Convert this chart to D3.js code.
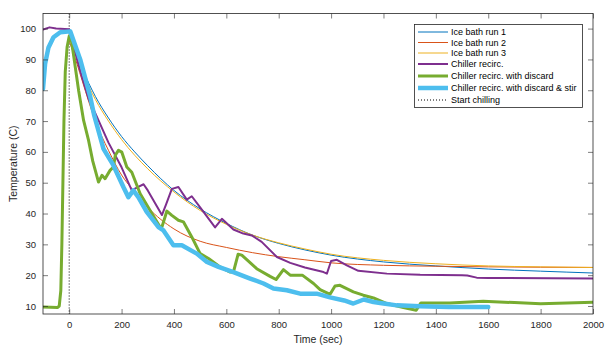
<!DOCTYPE html>
<html>
<head>
<meta charset="utf-8">
<script src="https://cdn.jsdelivr.net/npm/d3@7"></script>
<style>
  body { margin: 0; background: #fff; }
  svg text { font-family: "Liberation Sans", Arial, Helvetica, sans-serif; fill: #262626; }
</style>
</head>
<body>
<svg id="chart"></svg>
<script>
// Ice bath runs [time (s), temperature (C)]
const iceRun1 = [[0,98.5],[50,87],[100,78],[150,71],[200,65],[250,60],[300,55.5],[400,47.5],[500,41.5],[600,36.8],[700,33],[800,30.3],[900,28.2],[1000,26.5],[1200,24.3],[1400,23],[1600,22],[1800,21.3],[2000,20.7]];
const iceRun2 = [[0,96],[30,88.5],[50,83],[100,70],[150,60.5],[200,52.5],[250,47],[300,42],[400,35],[500,31],[600,29],[700,27.3],[800,26],[900,25],[1000,24],[1200,23.2],[1400,22.9],[1600,22.7],[2000,22.5]];
const iceRun3 = [[0,97.5],[50,86],[100,77],[150,70],[200,64],[300,54.5],[400,47],[500,41],[600,36.5],[700,33],[800,30.5],[900,28.5],[1000,26.8],[1200,24.8],[1400,23.7],[1600,23],[1800,22.7],[2000,22.5]];

const chiller = [[-100,99.7],[-75,100.4],[-50,100],[0,99.8],[20,93],[50,84],[75,77],[100,72.5],[150,63],[200,55],[239,47.5],[260,48.5],[284,49.5],[300,47.5],[354,39.5],[370,43],[392,48],[417,48.6],[449,44.5],[468,45.6],[500,42],[557,35.5],[583,38.3],[627,34.8],[665,33.5],[697,32.9],[735,30.8],[793,25.9],[844,24],[900,22.5],[971,21],[984,20.5],[1000,24.6],[1022,25],[1060,23.2],[1104,21.4],[1213,20.5],[1340,20.1],[1500,20],[1520,19.9],[1556,19.2],[1600,19.1],[2000,18.9]];

const chillerDiscard = [[-100,9.7],[-45,9.5],[-38,10],[-32,15],[-28,30],[-24,50],[-20,70],[-15,86],[-8,94],[0,97.5],[5,98],[16,91.8],[36,79.9],[55,70.2],[74,63.7],[90,57],[112,50.2],[125,52.4],[137,51.3],[156,54],[169,55.1],[176,58.9],[188,60.5],[201,59.9],[220,55.1],[239,53.4],[271,46.4],[309,41],[347,35.6],[354,35.6],[373,40.8],[392,39.4],[417,37.8],[436,37.3],[468,32.4],[500,27],[532,25.4],[576,22.7],[615,21],[627,21],[645,26.8],[659,26.5],[716,22.1],[767,19.6],[790,18.6],[818,21.8],[844,20],[890,20],[933,17.3],[958,15.3],[996,13.8],[1015,16.5],[1034,16.7],[1085,14.6],[1123,13.5],[1162,12.6],[1213,10.8],[1276,9.5],[1325,8.6],[1343,11],[1454,11],[1581,11.5],[1700,11.1],[1800,10.7],[2000,11.2]];

const chillerStir = [[-100,80.5],[-92,88.6],[-79,93.9],[-60,97.2],[-34,98.8],[4,99.1],[42,90],[80,78],[95,72],[131,61],[169,55.6],[207,48.6],[226,45.3],[245,47.5],[264,45.3],[296,40.5],[341,35.6],[360,34.5],[398,29.7],[430,29.7],[487,27],[526,24.3],[570,22.7],[627,21],[691,18.9],[742,17.3],[780,15.7],[831,15.1],[882,14],[945,14],[996,12.8],[1050,11.8],[1085,10.8],[1125,12.1],[1162,11.3],[1200,10.8],[1251,10.2],[1340,9.9],[1450,9.7],[1600,9.7]];

const xTicks = [0,200,400,600,800,1000,1200,1400,1600,1800,2000];
const yTicks = [10,20,30,40,50,60,70,80,90,100];

const series = [
  { name: "Ice bath run 1", data: iceRun1, color: "#0072BD", width: 1, curve: d3.curveMonotoneX },
  { name: "Ice bath run 2", data: iceRun2, color: "#D95319", width: 1, curve: d3.curveMonotoneX },
  { name: "Ice bath run 3", data: iceRun3, color: "#EDB120", width: 1, curve: d3.curveMonotoneX },
  { name: "Chiller recirc.", data: chiller, color: "#7E2F8E", width: 2, curve: d3.curveLinear },
  { name: "Chiller recirc. with discard", data: chillerDiscard, color: "#77AC30", width: 3, curve: d3.curveLinear },
  { name: "Chiller recirc. with discard & stir", data: chillerStir, color: "#4DBEEE", width: 4.5, curve: d3.curveLinear }
];

const svg_width = 614, svg_height = 351;
const margin = { top: 13.5, right: 21, bottom: 37, left: 43 },
    width = svg_width - margin.left - margin.right,
    height = svg_height - margin.top - margin.bottom;

const root = d3.select("#chart")
    .attr("width", svg_width)
    .attr("height", svg_height);

const svg = root.append("g")
    .attr("transform", `translate(${margin.left},${margin.top})`);

const x = d3.scaleLinear().domain([-100, 2000]).range([0, width]);
const y = d3.scaleLinear().domain([7.4, 104.9]).range([height, 0]);

svg.append("defs").append("clipPath").attr("id", "clip")
    .append("rect").attr("width", width).attr("height", height);

const plot = svg.append("g").attr("clip-path", "url(#clip)");

// start chilling marker
plot.append("line")
    .attr("x1", x(0)).attr("x2", x(0))
    .attr("y1", 0).attr("y2", height)
    .attr("stroke", "#000")
    .attr("stroke-width", 1)
    .attr("stroke-dasharray", "1,2");

const line = d3.line()
    .x(d => x(d[0]))
    .y(d => y(d[1]));

series.forEach(s => {
    plot.append("path")
        .datum(s.data)
        .attr("fill", "none")
        .attr("stroke", s.color)
        .attr("stroke-width", s.width)
        .attr("stroke-linejoin", "round")
        .attr("stroke-linecap", "round")
        .attr("d", line.curve(s.curve));
});

// axes with inward ticks on all four sides
const axisStyle = g => {
    g.select(".domain").remove();
    g.selectAll(".tick line").attr("stroke", "#262626").attr("stroke-width", 0.6);
    g.selectAll(".tick text").style("font-size", "9.5px");
};

svg.append("g")
    .attr("transform", `translate(0,${height})`)
    .call(d3.axisBottom(x).tickValues(xTicks).tickFormat(d3.format("d")).tickSizeInner(-5).tickSizeOuter(0).tickPadding(7))
    .call(axisStyle);

svg.append("g")
    .call(d3.axisTop(x).tickValues(xTicks).tickSizeInner(-5).tickSizeOuter(0).tickFormat(""))
    .call(axisStyle);

svg.append("g")
    .call(d3.axisLeft(y).tickValues(yTicks).tickSizeInner(-5).tickSizeOuter(0).tickPadding(7))
    .call(axisStyle);

svg.append("g")
    .attr("transform", `translate(${width},0)`)
    .call(d3.axisRight(y).tickValues(yTicks).tickSizeInner(-5).tickSizeOuter(0).tickFormat(""))
    .call(axisStyle);

svg.append("rect")
    .attr("width", width).attr("height", height)
    .attr("fill", "none")
    .attr("stroke", "#262626")
    .attr("stroke-width", 0.8);

svg.append("text")
    .attr("x", width / 2)
    .attr("y", height + 29)
    .attr("text-anchor", "middle")
    .style("font-size", "10.5px")
    .text("Time (sec)");

svg.append("text")
    .attr("transform", "rotate(-90)")
    .attr("x", -height / 2)
    .attr("y", -26)
    .attr("text-anchor", "middle")
    .style("font-size", "10.5px")
    .text("Temperature (C)");

// legend
const legendItems = series.map(s => ({ name: s.name, color: s.color, width: s.width, dash: null }))
    .concat([{ name: "Start chilling", color: "#000", width: 1, dash: "1,2" }]);
const legendY = [32, 42.5, 53, 64, 76, 88, 100];

const legend = root.append("g");
legend.append("rect")
    .attr("x", 414.5).attr("y", 24.5)
    .attr("width", 168).attr("height", 83)
    .attr("fill", "#fff")
    .attr("stroke", "#262626")
    .attr("stroke-width", 0.8);

legendItems.forEach((d, i) => {
    legend.append("line")
        .attr("x1", 418).attr("x2", 448)
        .attr("y1", legendY[i]).attr("y2", legendY[i])
        .attr("stroke", d.color)
        .attr("stroke-width", d.width)
        .attr("stroke-dasharray", d.dash);
    legend.append("text")
        .attr("x", 451)
        .attr("y", legendY[i])
        .attr("dy", "0.35em")
        .style("font-size", "9px")
        .style("fill", "#000")
        .text(d.name);
});
</script>
</body>
</html>
